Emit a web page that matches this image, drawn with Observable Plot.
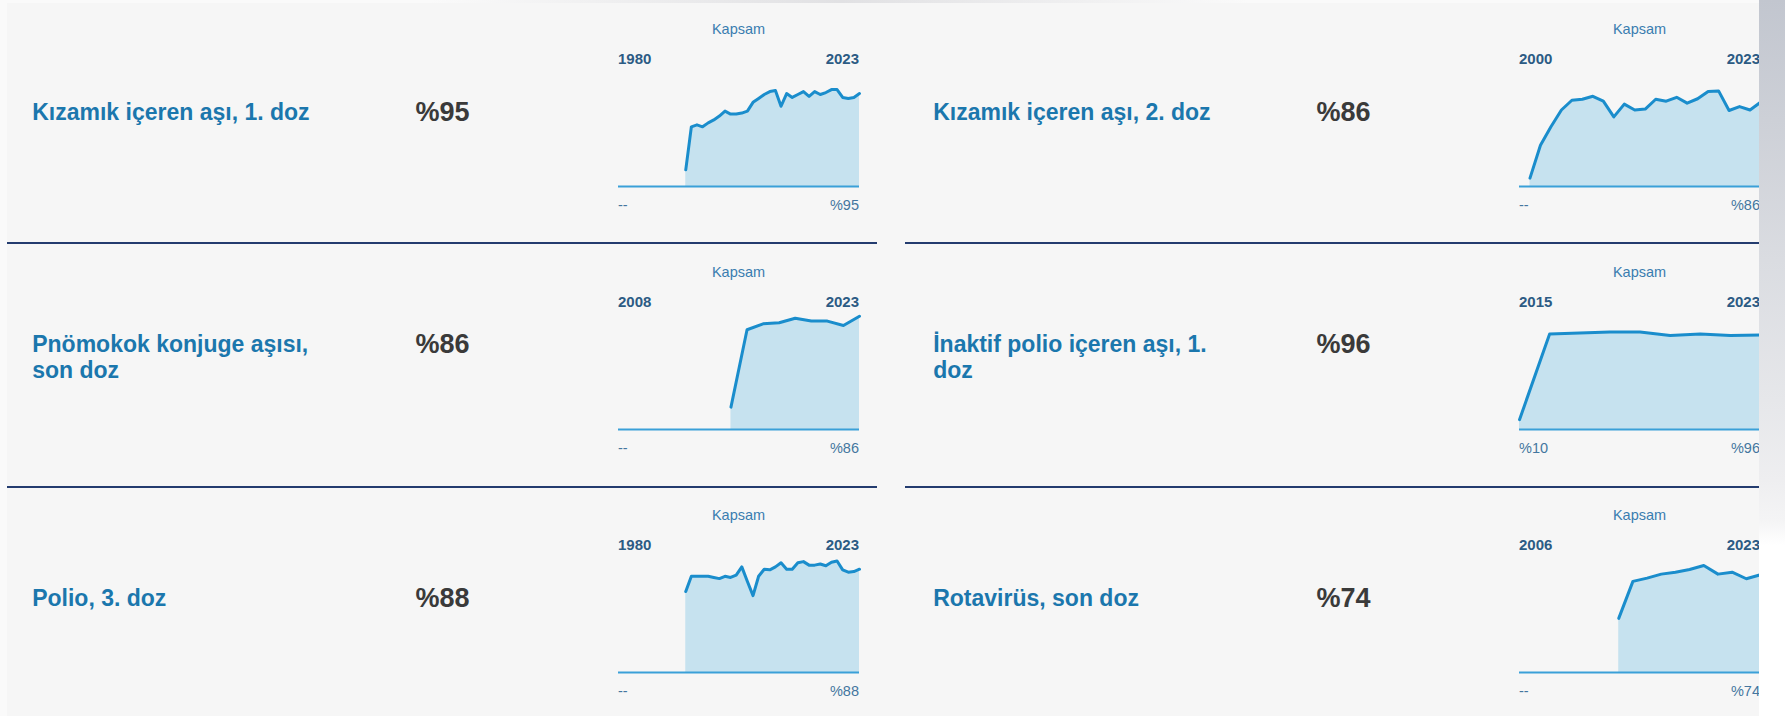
<!DOCTYPE html>
<html>
<head>
<meta charset="utf-8">
<script src="https://cdn.jsdelivr.net/npm/d3@7"></script>
<script src="https://cdn.jsdelivr.net/npm/@observablehq/plot@0.6"></script>
<style>
  html, body { margin: 0; padding: 0; width: 1785px; height: 716px; overflow: hidden; background: #fafafa;
    font-family: "Liberation Sans", Arial, sans-serif; }
  #root { position: absolute; left: 0; top: 0; width: 1785px; height: 716px; }
  #panel { position: absolute; left: 7px; top: 3px; width: 1778px; height: 713px; background: #f6f6f6; }
  .abs { position: absolute; white-space: nowrap; }
  .name { position: absolute; width: 290px; white-space: normal; font-size: 23px; line-height: 26px;
    font-weight: bold; color: #1b77ad; }
  .pct { position: absolute; white-space: nowrap; font-size: 27px; line-height: 27px; font-weight: bold; color: #3a3a3a; }
  .sep { position: absolute; height: 2px; background: #243c6f; }
  .spark { position: absolute; }
  #edge { position: absolute; left: 1759px; top: 0; width: 26px; height: 716px; z-index: 10;
    background: linear-gradient(to bottom, #c2c6cf 0px, #cdd0d7 120px, #dadce1 260px, #e6e7ea 400px, #eeeef0 480px, #f4f4f5 520px, #ffffff 545px, #ffffff 716px); }
  #topshade { position: absolute; left: 430px; top: 0; width: 820px; height: 3px;
    background: linear-gradient(to right, rgba(200,200,205,0), rgba(200,200,205,0.5), rgba(200,200,205,0)); }
</style>
</head>
<body>
<div id="root">
  <div id="panel"></div>
  <div id="topshade"></div>
</div>
<div id="edge"></div>
<script>
// ---- data ----
const vaccines = [
  "Kızamık içeren aşı, 1. doz",
  "Kızamık içeren aşı, 2. doz",
  "Pnömokok konjuge aşısı, son doz",
  "İnaktif polio içeren aşı, 1. doz",
  "Polio, 3. doz",
  "Rotavirüs, son doz"
];
const axisTitle = "Kapsam";
const startYears = [1980, 2000, 2008, 2015, 1980, 2006];
const endYears = [2023, 2023, 2023, 2023, 2023, 2023];

const mcv1Years = [1992,1993,1994,1995,1996,1997,1998,1999,2000,2001,2002,2003,2004,2005,2006,2007,
  2008,2009,2010,2011,2012,2013,2014,2015,2016,2017,2018,2019,2020,2021,2022,2023];
const mcv1Values = [17,61,63,61,65,68,72,77,74,74,75,77,86,90,94,97,
  98,82,95,91,94,97,92,97,94,96,99,99,91,90,91,95];

const mcv2Years = [2001,2002,2003,2004,2005,2006,2007,2008,2009,2010,2011,2012,2013,2014,2015,2016,
  2017,2018,2019,2020,2021,2022,2023];
const mcv2Values = [8.5,42,61,78,88,89,92,87,71,84,78,79,89,87,91,85,
  89.5,97,97.5,77.5,81.5,78,86];

const pcvYears = [2015,2016,2017,2018,2019,2020,2021,2022,2023];
const pcvValues = [17,75.7,80.2,81,84.5,82.3,82.3,79,86];

const ipvYears = [2015,2016,2017,2018,2019,2020,2021,2022,2023];
const ipvValues = [10,97,98,99,99,95.5,97,95.5,96];

const pol3Years = [1992,1993,1994,1995,1996,1997,1998,1999,2000,2001,2002,2003,2004,2005,2006,2007,
  2008,2009,2010,2011,2012,2013,2014,2015,2016,2017,2018,2019,2020,2021,2022,2023];
const pol3Values = [69,82,82,82,82,81,80,82,81,83,90,77.5,65.5,82,88,87.5,
  90,93.5,88,88,93.5,94.5,91.5,91.5,92.5,91,94,95,87.5,85.5,86,88];

const rotaYears = [2013,2014,2015,2016,2017,2018,2019,2020,2021,2022,2023];
const rotaValues = [41,69,71.5,74.5,76,78,81,74.5,76,71,74];

const seriesYears = [mcv1Years, mcv2Years, pcvYears, ipvYears, pol3Years, rotaYears];
const seriesValues = [mcv1Values, mcv2Values, pcvValues, ipvValues, pol3Values, rotaValues];

// per-chart y-scale maximum (each sparkline has its own scale)
const yMax = [117.5, 117.3, 87.3, 116.8, 98, 87.1];

// ---- layout ----
const root = document.getElementById("root");
const colX = [0, 901];
const rowY = [0, 243, 486];
const chartW = 241;

function label(text, x, baseline, size, weight, color, anchor) {
  const d = document.createElement("div");
  d.className = "abs";
  d.textContent = text;
  d.style.fontSize = size + "px";
  d.style.lineHeight = size + "px";
  d.style.fontWeight = weight;
  d.style.color = color;
  d.style.top = (baseline - 0.8465 * size) + "px";
  d.style.left = x + "px";
  if (anchor === "middle") d.style.transform = "translateX(-50%)";
  if (anchor === "end") d.style.transform = "translateX(-100%)";
  root.appendChild(d);
  return d;
}

function fmt(v) { return "%" + Math.round(v); }

for (let i = 0; i < 6; i++) {
  const c = i % 2, r = Math.floor(i / 2);
  const ox = colX[c], oy = rowY[r];
  const years = seriesYears[i], values = seriesValues[i];
  const data = years.map((y, k) => ({year: y, value: values[k]}));

  // vaccine name
  const name = document.createElement("div");
  name.className = "name";
  name.textContent = vaccines[i];
  name.style.left = (32.2 + ox) + "px";
  name.style.top = "0px";
  root.appendChild(name);
  const lines = Math.max(1, Math.round(name.offsetHeight / 26));
  const firstBase = 119.5 - (lines - 1) * 11 + oy;
  name.style.top = (firstBase - 20.97) + "px";

  // big percentage (latest value)
  const pct = document.createElement("div");
  pct.className = "pct";
  pct.textContent = fmt(values[values.length - 1]);
  pct.style.left = (415.5 + ox) + "px";
  pct.style.top = (firstBase + 2.4 - 22.86) + "px";
  root.appendChild(pct);

  // sparkline
  const x0 = 618 + ox;
  label(axisTitle, x0 + chartW / 2, 34.3 + oy, 14.5, "normal", "#3a7db0", "middle");
  label(String(startYears[i]), x0, 63.3 + oy, 15, "bold", "#2c5b84", "start");
  label(String(endYears[i]), x0 + chartW, 63.3 + oy, 15, "bold", "#2c5b84", "end");
  const firstLabel = years[0] === startYears[i] ? fmt(values[0]) : "--";
  label(firstLabel, x0, 210 + oy, 14.5, "normal", "#44769f", "start");
  label(fmt(values[values.length - 1]), x0 + chartW, 210 + oy, 14.5, "normal", "#44769f", "end");

  const chart = Plot.plot({
    width: chartW + 6,
    height: 125,
    marginLeft: 3, marginRight: 3, marginTop: 6, marginBottom: 4,
    x: {domain: [startYears[i], endYears[i]], axis: null},
    y: {domain: [0, yMax[i]], axis: null},
    style: {background: "transparent", overflow: "visible"},
    marks: [
      Plot.areaY(data, {x: "year", y: "value", fill: "#c6e2ef"}),
      Plot.ruleY([0], {stroke: "#3aa0d8", strokeWidth: 2}),
      Plot.lineY(data, {x: "year", y: "value", stroke: "#1a8dcc", strokeWidth: 3, strokeLinejoin: "round"})
    ]
  });
  chart.classList.add("spark");
  chart.style.position = "absolute";
  chart.style.left = (x0 - 3) + "px";
  chart.style.top = (65 + oy) + "px";
  chart.style.maxWidth = "none";
  root.appendChild(chart);
}

// separators between rows
[[7, 870], [905, 854]].forEach(([l, w]) => {
  [242, 486].forEach(t => {
    const s = document.createElement("div");
    s.className = "sep";
    s.style.left = l + "px";
    s.style.width = w + "px";
    s.style.top = t + "px";
    root.appendChild(s);
  });
});
</script>
</body>
</html>
